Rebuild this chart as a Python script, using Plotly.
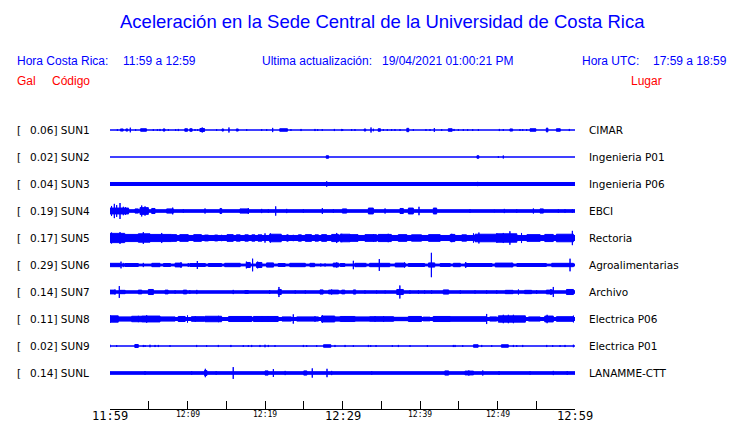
import plotly.graph_objects as go

# ---------------- data ----------------
title_text = "Aceleración en la Sede Central de la Universidad de Costa Rica"
hora_cr = "11:59 a 12:59"
hora_utc = "17:59 a 18:59"
ultima = "19/04/2021 01:00:21 PM"

codes = ["SUN1", "SUN2", "SUN3", "SUN4", "SUN5", "SUN6", "SUN7", "SUN8", "SUN9", "SUNL"]
max_gal = ["0.06", "0.02", "0.04", "0.19", "0.17", "0.29", "0.14", "0.11", "0.02", "0.14"]
places = ["CIMAR", "Ingenieria P01", "Ingenieria P06", "EBCI", "Rectoria",
          "Agroalimentarias", "Archivo", "Electrica P06", "Electrica P01", "LANAMME-CTT"]

# background noise half-amplitude (Gal) per station
noise_gal = [0.0, 0.0, 0.036, 0.031, 0.06, 0.022, 0.029, 0.036, 0.0, 0.031]

# bursts: (start minute, end minute, half-amplitude Gal); minutes after 11:59
sun1_ev = [(0.95,0.95,.02),(1.35,1.7,.025),(2.05,2.3,.025),(2.62,2.62,.055),(3.31,3.31,.02),(3.95,4.7,.03),
           (5.59,5.59,.02),(6.11,6.11,.02),(6.45,6.45,.025),(6.85,7.1,.025),(7.53,7.53,.02),(8.47,8.47,.02),
           (8.82,8.82,.025),(9.65,10.0,.03),(10.3,10.6,.03),(10.97,10.97,.02),(11.31,11.31,.02),(11.6,12.2,.035),
           (11.9,11.9,.06),(13.76,13.76,.02),(14.45,14.65,.025),(15.35,15.35,.06),(16.3,16.55,.025),(17.64,17.64,.02),
           (19.57,19.57,.02),(20.22,20.22,.02),(20.99,20.99,.05),(21.9,22.9,.03),(23.35,23.35,.02),(24.65,24.65,.025),
           (26.45,26.45,.025),(26.8,26.8,.02),(27.39,27.39,.02),(28.95,28.95,.025),(29.89,29.89,.025),
           (30.02,30.02,.02),(31.18,31.18,.02),(31.61,31.61,.02),(32.8,33.0,.025),(33.68,33.68,.06),(33.98,33.98,.03),
           (34.6,34.9,.03),(35.27,35.27,.02),(35.78,35.78,.02),(36.34,36.34,.02),(36.77,36.77,.02),(37.42,37.42,.02),
           (38.3,38.55,.04),(39.14,39.14,.02),(40.77,40.77,.02),(41.29,41.29,.02),(41.85,41.85,.045),(42.8,42.8,.02),
           (43.65,44.15,.03),(44.39,44.39,.025),(44.95,44.95,.02),(45.59,45.59,.02),(46.15,46.15,.02),(46.8,46.8,.02),
           (47.53,47.53,.02),(50.24,50.24,.025),(50.75,50.75,.02),(51.6,51.95,.025),(52.9,52.9,.02),(53.25,53.25,.02),
           (53.76,53.76,.02),(54.2,54.95,.03),(56.3,56.5,.045),(57.6,58.1,.03),(59.27,59.27,.025)]
sun2_ev = [(27.9,28.2,0.03),(47.35,47.6,0.03),(50.11,50.11,0.02),(50.75,50.75,0.035)]
sun3_ev = [(27.96,27.96,0.065),(47.44,47.44,0.05)]
sun4_ev = [(0.0,2.4,0.07),(0.2,0.2,0.12),(0.56,0.56,0.17),(0.86,0.86,0.14),(1.29,1.29,0.19),(1.72,1.72,0.1),
           (2.0,2.0,0.09),(3.23,3.66,0.05),(3.87,4.95,0.08),(4.09,4.09,0.13),(4.52,4.52,0.11),(5.38,5.81,0.06),
           (7.31,8.17,0.05),(8.09,8.09,0.08),(9.46,9.46,0.04),(12.26,12.26,0.06),(14.19,14.41,0.06),(16.77,17.85,0.05),
           (17.85,17.85,0.07),(19.57,19.57,0.05),(20.43,20.43,0.04),(21.38,21.38,0.11),(22.8,22.8,0.05),
           (24.95,24.95,0.04),(27.4,27.4,0.07),(28.82,28.82,0.04),(29.98,30.54,0.05),(33.34,33.98,0.07),
           (35.49,35.49,0.06),(37.42,37.85,0.06),(38.5,39.14,0.07),(39.87,39.87,0.1),(41.72,42.15,0.07),
           (46.45,46.45,0.04),(49.59,49.59,0.03),(50.88,50.88,0.05),(52.48,52.48,0.04),(54.63,54.63,0.06),
           (55.49,55.92,0.05),(57.85,57.85,0.04),(58.71,58.71,0.04),(59.66,59.66,0.04)]
sun5_ev = [(0.0,1.9,0.11),(0.2,0.2,0.13),(1.29,1.29,0.14),(1.9,3.65,0.085),(3.65,5.16,0.1),(4.3,4.3,0.14),
           (5.16,7.96,0.085),(6.67,6.67,0.12),(8.0,8.6,0.08),(9.0,10.1,0.08),(10.8,11.8,0.08),(12.2,12.7,0.07),
           (13.5,13.9,0.07),(14.4,14.4,0.075),(15.1,15.9,0.08),(16.3,16.8,0.075),(17.4,17.85,0.075),(18.3,18.7,0.075),
           (19.1,19.6,0.075),(20.0,20.0,0.11),(20.6,22.1,0.09),(20.7,20.7,0.11),(22.8,23.0,0.075),(23.65,23.65,0.075),
           (24.3,24.7,0.075),(25.2,26.0,0.08),(26.45,26.9,0.075),(27.3,27.95,0.08),(28.6,29.5,0.085),(29.25,29.25,0.12),
           (29.68,30.97,0.09),(29.9,29.9,0.1),(30.97,32.0,0.08),(32.9,34.4,0.08),(34.0,34.0,0.09),(34.6,36.3,0.085),
           (35.9,35.9,0.1),(37.2,38.3,0.08),(38.9,40.2,0.075),(41.1,42.6,0.08),(43.9,44.5,0.085),(44.1,44.1,0.1),
           (45.4,46.0,0.075),(46.9,46.9,0.11),(47.1,49.9,0.09),(47.6,47.6,0.13),(49.9,49.9,0.11),(49.9,52.5,0.1),
           (50.75,50.75,0.12),(51.6,51.6,0.16),(53.1,53.1,0.12),(53.8,55.5,0.08),(56.1,57.2,0.085),(57.6,59.8,0.09),
           (59.66,59.66,0.17)]
sun6_ev = [(0.0,1.3,0.04),(1.42,1.42,0.08),(1.7,1.7,0.05),(1.9,3.65,0.035),(4.3,4.3,0.05),(5.4,6.45,0.04),
           (6.9,7.8,0.035),(8.4,9.25,0.045),(9.16,9.16,0.065),(10.1,10.1,0.045),(10.3,12.3,0.035),(11.27,11.27,0.095),
           (12.7,14.4,0.035),(14.8,16.8,0.04),(17.6,18.1,0.06),(17.6,17.6,0.08),(18.4,18.4,0.15),(18.9,19.6,0.06),
           (19.05,19.05,0.08),(20.2,21.1,0.05),(21.7,22.6,0.035),(23.2,25.2,0.04),(25.8,26.4,0.04),(27.2,27.2,0.035),
           (27.75,27.75,0.035),(28.8,29.5,0.045),(29.25,29.25,0.06),(29.7,30.3,0.035),(31.4,31.4,0.1),
           (31.6,32.9,0.04),(33.0,33.0,0.05),(33.5,36.1,0.04),(34.75,34.75,0.14),(36.8,38.1,0.045),(38.0,38.0,0.06),
           (38.5,40.6,0.035),(41.1,41.9,0.05),(41.47,41.47,0.29),(42.6,43.9,0.035),(44.3,45.2,0.04),(45.9,45.9,0.07),
           (45.8,49.3,0.035),(49.7,52.0,0.045),(51.8,51.8,0.05),(52.5,56.3,0.035),(57.0,59.8,0.04),(59.36,59.36,0.15)]
sun7_ev = [(0.0,0.65,0.045),(0.65,0.65,0.06),(1.2,1.2,0.14),(1.3,1.95,0.04),(3.65,4.1,0.045),(4.95,5.6,0.06),
           (7.1,7.5,0.045),(8.4,8.4,0.04),(9.46,9.9,0.045),(10.3,10.3,0.04),(11.2,11.2,0.05),(15.9,15.9,0.05),
           (17.4,17.85,0.035),(20.6,20.6,0.045),(21.7,22.1,0.06),(21.8,21.8,0.12),(23.9,23.9,0.04),(25.2,25.2,0.04),
           (27.1,27.5,0.05),(28.2,29.5,0.045),(28.6,28.6,0.06),(29.9,30.3,0.045),(31.4,31.7,0.05),(32.9,32.9,0.04),
           (34.4,34.4,0.035),(35.5,35.5,0.035),(37.0,37.85,0.06),(37.4,37.4,0.155),(38.7,38.7,0.04),(39.8,39.8,0.04),
           (40.6,40.6,0.04),(41.5,41.5,0.04),(43.0,43.7,0.05),(45.2,45.2,0.04),(47.1,47.1,0.04),(48.6,48.6,0.04),
           (49.9,49.9,0.04),(51.0,52.0,0.04),(52.7,52.7,0.06),(53.5,54.4,0.04),(55.05,55.05,0.045),(56.3,57.2,0.045),
           (56.9,56.9,0.07),(57.2,57.2,0.12),(58.9,59.8,0.06)]
sun8_ev = [(0.0,1.07,0.075),(0.0,0.0,0.09),(1.07,2.8,0.05),(2.8,4.1,0.065),(3.66,3.66,0.075),(4.1,6.45,0.07),
           (4.73,4.73,0.09),(6.45,8.4,0.05),(8.8,9.7,0.06),(10.0,10.0,0.085),(10.5,12.2,0.055),(11.0,11.0,0.065),
           (12.26,14.4,0.065),(14.0,14.0,0.075),(15.3,18.3,0.06),(17.85,17.85,0.07),(18.5,21.7,0.06),(19.6,19.6,0.07),
           (20.4,20.4,0.07),(21.3,21.3,0.07),(22.2,23.4,0.05),(23.65,23.65,0.11),(24.1,26.9,0.05),(26.45,26.45,0.065),
           (27.3,29.0,0.07),(27.4,27.4,0.09),(29.0,29.7,0.05),(29.7,31.6,0.06),(30.3,30.3,0.07),(31.6,33.5,0.05),
           (33.5,36.6,0.055),(34.2,34.2,0.065),(35.3,35.3,0.07),(36.6,38.5,0.04),(38.5,40.2,0.06),(40.4,41.3,0.045),
           (41.7,43.9,0.06),(43.9,48.6,0.055),(48.6,48.6,0.12),(49.0,49.9,0.05),(50.1,53.6,0.075),(50.75,50.75,0.1),
           (51.4,51.4,0.1),(52.05,52.05,0.1),(54.0,55.5,0.05),(56.1,57.2,0.07),(56.4,56.4,0.1),(57.6,59.8,0.055),
           (59.8,59.8,0.08)]
sun9_ev = [(0.0,0.0,0.03),(0.86,0.86,0.02),(3.2,3.65,0.035),(4.3,4.3,0.025),(4.52,4.52,0.02),(5.16,5.16,0.03),
           (5.81,5.81,0.025),(6.24,6.24,0.025),(7.74,7.74,0.02),(11.18,11.18,0.025),(12.47,12.47,0.02),
           (13.98,13.98,0.025),(15.6,15.6,0.025),(17.2,17.2,0.02),(17.85,17.85,0.02),(18.28,18.28,0.025),
           (19.35,19.35,0.025),(20.0,20.0,0.03),(20.43,20.43,0.025),(21.29,21.29,0.02),(24.95,24.95,0.025),
           (25.38,25.38,0.02),(26.67,26.67,0.02),(27.55,28.5,0.03),(29.03,29.03,0.025),(30.33,30.33,0.025),
           (31.4,31.4,0.02),(33.34,33.34,0.025),(33.64,33.64,0.02),(34.33,34.33,0.02),(36.43,36.43,0.02),
           (37.21,37.21,0.025),(38.71,38.71,0.02),(40.95,40.95,0.02),(44.3,44.3,0.025),(44.52,44.52,0.025),
           (45.51,45.51,0.02),(46.9,47.5,0.03),(47.96,47.96,0.025),(49.25,49.25,0.02),(50.5,51.4,0.03),
           (52.05,52.05,0.025),(52.48,52.48,0.02),(53.25,53.25,0.025),(56.35,56.35,0.025),(57.12,57.12,0.02),
           (58.07,58.07,0.02),(58.71,58.71,0.025),(59.79,59.79,0.03)]
sunl_ev = [(4.52,4.52,0.045),(10.54,10.54,0.04),(12.2,12.5,0.06),(12.3,12.3,0.1),(13.7,13.7,0.04),(15.9,15.9,0.14),
           (20.0,20.4,0.05),(21.08,21.08,0.095),(22.6,22.6,0.05),(25.0,25.4,0.05),(26.1,26.1,0.11),(28.0,28.0,0.1),
           (28.6,28.6,0.05),(33.77,33.77,0.04),(43.2,43.7,0.05),(45.8,46.9,0.045),(46.3,46.3,0.06),(48.1,48.1,0.06),
           (50.2,50.2,0.045),(54.2,54.2,0.04),(57.2,57.2,0.05),(59.0,59.0,0.045)]
events = [sun1_ev, sun2_ev, sun3_ev, sun4_ev, sun5_ev, sun6_ev, sun7_ev, sun8_ev, sun9_ev, sunl_ev]

tick_minutes = list(range(0, 61, 5))
label_minutes = [0, 10, 20, 30, 40, 50, 60]
label_text = ["11:59", "12:09", "12:19", "12:29", "12:39", "12:49", "12:59"]
label_big = [True, False, False, True, False, False, True]

# ---------------- styling / geometry ----------------
PAGE_OFF = 8                 # default body margin of the html page
PLOT_L, PLOT_R = 110, 575    # plot area in window pixels
PLOT_T, PLOT_B = 100, 409
W, H = 740 - PAGE_OFF, 423 - PAGE_OFF
L, T = PLOT_L - PAGE_OFF, PLOT_T - PAGE_OFF
R, B = 740 - PLOT_R, 423 - PLOT_B
PW, PH = PLOT_R - PLOT_L, PLOT_B - PLOT_T
ROW_PX = 27.0
PX_PER_GAL = 42.0
FIRST_ROW_PX = 130.0
BLUE = "#0000ff"
RED = "#ff0000"
Y_TOP = (FIRST_ROW_PX - PLOT_T) / ROW_PX
Y_BOT = -(PLOT_B - FIRST_ROW_PX) / ROW_PX
G = PX_PER_GAL / ROW_PX  # rows per Gal


def px(xp):
    return (xp - PLOT_L) / PW


def py(yp):
    return (PLOT_B - yp) / PH


fig = go.Figure()
for i, code in enumerate(codes):
    base = -i
    xs, ys = [], []
    segs = [(0.0, 60.0, noise_gal[i])] + events[i]
    for t0, t1, a in segs:
        h = a * G
        xs += [t0, t1, t1, t0, t0, None]
        ys += [base - h, base - h, base + h, base + h, base - h, None]
    fig.add_trace(go.Scatter(x=xs, y=ys, mode="lines", fill="toself", fillcolor=BLUE,
                             line=dict(color=BLUE, width=1), hoverinfo="skip", showlegend=False))

ann = []
FS = "DejaVu Sans"
AR = "Liberation Sans"
for i, code in enumerate(codes):
    yv = py(FIRST_ROW_PX + i * ROW_PX)
    ann.append(dict(x=px(15), y=yv, text="[", xanchor="left"))
    ann.append(dict(x=px(27.5), y=yv, text=f"{max_gal[i]}] {code}", xanchor="left"))
    ann.append(dict(x=px(587), y=yv, text=places[i], xanchor="left"))
for a in ann:
    a.update(xref="paper", yref="paper", yanchor="middle", showarrow=False,
             font=dict(family=FS, size=10.5, color="black"))

hdr = [
    (382, 22, title_text, "center", BLUE, 18.5),
    (15, 61, "Hora Costa Rica:", "left", BLUE, 12),
    (121, 61, hora_cr, "left", BLUE, 12),
    (260, 61, "Ultima actualización:", "left", BLUE, 12),
    (380, 61, ultima, "left", BLUE, 12),
    (580, 61, "Hora UTC:", "left", BLUE, 12),
    (651, 61, hora_utc, "left", BLUE, 12),
    (15, 81, "Gal", "left", RED, 12),
    (50, 81, "Código", "left", RED, 12),
    (629, 81, "Lugar", "left", RED, 12),
]
for xp, yp, txt, anc, col, sz in hdr:
    ann.append(dict(x=px(xp), y=py(yp), xref="paper", yref="paper", text=txt, xanchor=anc,
                    yanchor="middle", showarrow=False, font=dict(family=AR, size=sz, color=col)))

for m, txt, big in zip(label_minutes, label_text, label_big):
    ann.append(dict(x=m, y=py(415.5 if big else 414.5), xref="x", yref="paper", text=txt,
                    xanchor="center", yanchor="middle", borderpad=0, showarrow=False,
                    font=dict(family="DejaVu Sans Mono", size=12 if big else 8, color="black")))

fig.update_layout(
    width=W, height=H, autosize=False,
    margin=dict(l=L, r=R, t=T, b=B, pad=0),
    paper_bgcolor="white", plot_bgcolor="white",
    showlegend=False, hovermode=False,
    xaxis=dict(range=[0, 60], tickvals=tick_minutes, ticks="inside", ticklen=8, tickwidth=1,
               tickcolor="black", showticklabels=False, showline=True, linecolor="black",
               linewidth=1, showgrid=False, zeroline=False, fixedrange=True),
    yaxis=dict(range=[Y_BOT, Y_TOP], visible=False, fixedrange=True),
    annotations=ann,
)

fig.write_html("out.html")
